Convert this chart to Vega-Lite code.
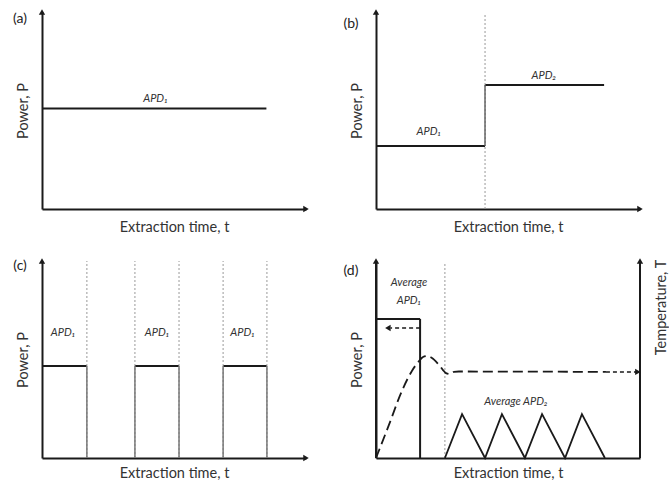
{
  "$schema": "https://vega.github.io/schema/vega-lite/v6.json",
  "padding": {"left": 13, "top": 9, "right": 0, "bottom": 0},
  "config": {
    "view": {"stroke": null},
    "font": "Lato",
    "axis": {"domainColor": "#1a1a1a", "domainWidth": 2, "ticks": false, "labels": false, "grid": false, "titleFont": "Lato", "titleFontSize": 14.5, "titleFontWeight": "normal", "titleColor": "#333"},
    "axisY": {"titlePadding": 12},
    "axisX": {"titlePadding": 11}
  },
  "datasets": {
    "segs": [
      {"p": "a", "s": "k", "x": 0, "y": 51, "x2": 85, "y2": 51},
      {"p": "b", "s": "d", "x": 41.3, "y": 0, "x2": 41.3, "y2": 99},
      {"p": "b", "s": "k", "x": 0, "y": 32, "x2": 41.3, "y2": 32},
      {"p": "b", "s": "g", "x": 41.3, "y": 32, "x2": 41.3, "y2": 63},
      {"p": "b", "s": "k", "x": 41.3, "y": 63, "x2": 86.4, "y2": 63},
      {"p": "c", "s": "k", "x": 0, "y": 46.7, "x2": 17, "y2": 46.7},
      {"p": "c", "s": "k", "x": 35.2, "y": 46.7, "x2": 51.9, "y2": 46.7},
      {"p": "c", "s": "k", "x": 68.6, "y": 46.7, "x2": 85.2, "y2": 46.7},
      {"p": "c", "s": "g", "x": 17, "y": 0, "x2": 17, "y2": 46.7},
      {"p": "c", "s": "g", "x": 35.2, "y": 0, "x2": 35.2, "y2": 46.7},
      {"p": "c", "s": "g", "x": 51.9, "y": 0, "x2": 51.9, "y2": 46.7},
      {"p": "c", "s": "g", "x": 68.6, "y": 0, "x2": 68.6, "y2": 46.7},
      {"p": "c", "s": "g", "x": 85.2, "y": 0, "x2": 85.2, "y2": 46.7},
      {"p": "c", "s": "d", "x": 17, "y": 0, "x2": 17, "y2": 100},
      {"p": "c", "s": "d", "x": 35.2, "y": 0, "x2": 35.2, "y2": 100},
      {"p": "c", "s": "d", "x": 51.9, "y": 0, "x2": 51.9, "y2": 100},
      {"p": "c", "s": "d", "x": 68.6, "y": 0, "x2": 68.6, "y2": 100},
      {"p": "c", "s": "d", "x": 85.2, "y": 0, "x2": 85.2, "y2": 100},
      {"p": "d", "s": "k", "x": 0, "y": 0, "x2": 0, "y2": 100},
      {"p": "d", "s": "k", "x": 0, "y": 70.6, "x2": 16.7, "y2": 70.6},
      {"p": "d", "s": "k", "x": 16.7, "y": 70.6, "x2": 16.7, "y2": 0},
      {"p": "d", "s": "k", "x": 100, "y": 0, "x2": 100, "y2": 100},
      {"p": "d", "s": "d", "x": 26.1, "y": 0, "x2": 26.1, "y2": 99},
      {"p": "d", "s": "a", "x": 16.7, "y": 66, "x2": 5.5, "y2": 66},
      {"p": "d", "s": "a", "x": 87.1, "y": 43.7, "x2": 98.5, "y2": 43.7}
    ],
    "arrows": [
      {"p": "a", "x": 0, "y": 100, "sh": "triangle-up"},
      {"p": "a", "x": 100, "y": 0, "sh": "triangle-right"},
      {"p": "b", "x": 0, "y": 100, "sh": "triangle-up"},
      {"p": "b", "x": 100, "y": 0, "sh": "triangle-right"},
      {"p": "c", "x": 0, "y": 100, "sh": "triangle-up"},
      {"p": "c", "x": 100, "y": 0, "sh": "triangle-right"},
      {"p": "d", "x": 0, "y": 100, "sh": "triangle-up"},
      {"p": "d", "x": 100, "y": 100, "sh": "triangle-up"},
      {"p": "d", "x": 4.5, "y": 66, "sh": "triangle-left"},
      {"p": "d", "x": 99.2, "y": 43.7, "sh": "triangle-right"}
    ],
    "labels": [
      {"p": "a", "t": "APD₁", "x": 43, "y": 56},
      {"p": "b", "t": "APD₁", "x": 20, "y": 39},
      {"p": "b", "t": "APD₂", "x": 63.6, "y": 67.5},
      {"p": "c", "t": "APD₁", "x": 8, "y": 63.5},
      {"p": "c", "t": "APD₁", "x": 43.6, "y": 63.5},
      {"p": "c", "t": "APD₁", "x": 76, "y": 63.5},
      {"p": "d", "t": "Average", "x": 12.5, "y": 88.8},
      {"p": "d", "t": "APD₁", "x": 12.5, "y": 79.7},
      {"p": "d", "t": "Average APD₂", "x": 53, "y": 28.4}
    ],
    "tags": [
      {"p": "a", "t": "(a)", "x": -8.3, "y": 96.4},
      {"p": "b", "t": "(b)", "x": -9.5, "y": 94},
      {"p": "c", "t": "(c)", "x": -8.3, "y": 97.5},
      {"p": "d", "t": "(d)", "x": -9.5, "y": 95}
    ],
    "curves": [
      {"c": "curve", "x": 0, "y": 0},
      {"c": "curve", "x": 4.9, "y": 16.8},
      {"c": "curve", "x": 9.8, "y": 34},
      {"c": "curve", "x": 13.6, "y": 44.2},
      {"c": "curve", "x": 16.3, "y": 49.2},
      {"c": "curve", "x": 17.8, "y": 51.3},
      {"c": "curve", "x": 19.3, "y": 51.8},
      {"c": "curve", "x": 21.2, "y": 50.8},
      {"c": "curve", "x": 23.9, "y": 47.2},
      {"c": "curve", "x": 26.5, "y": 43.1},
      {"c": "curve", "x": 28, "y": 42.6},
      {"c": "curve", "x": 29.5, "y": 43.7},
      {"c": "curve", "x": 31.4, "y": 43.9},
      {"c": "curve", "x": 87.1, "y": 43.7},
      {"c": "tri", "x": 26.1, "y": 0},
      {"c": "tri", "x": 32.6, "y": 22.3},
      {"c": "tri", "x": 41.3, "y": 0},
      {"c": "tri", "x": 47.7, "y": 22.3},
      {"c": "tri", "x": 56.4, "y": 0},
      {"c": "tri", "x": 62.9, "y": 22.3},
      {"c": "tri", "x": 71.6, "y": 0},
      {"c": "tri", "x": 78, "y": 22.3},
      {"c": "tri", "x": 86.7, "y": 0}
    ]
  },
  "vconcat": [
    {
      "hconcat": [
        {
          "width": 264, "height": 197,
          "encoding": {"x": {"field": "x", "type": "quantitative", "scale": {"domain": [0, 100]}, "axis": {"title": "Extraction time, t"}}, "y": {"field": "y", "type": "quantitative", "scale": {"domain": [0, 100]}, "axis": {"title": "Power, P"}}},
          "layer": [
            {"data": {"name": "segs"}, "transform": [{"filter": "datum.p=='a' && datum.s=='k'"}], "mark": {"type": "rule", "strokeWidth": 2, "color": "#1a1a1a"},
             "encoding": {"x2": {"field": "x2"}, "y2": {"field": "y2"}}},
            {"data": {"name": "arrows"}, "transform": [{"filter": "datum.p=='a'"}], "mark": {"type": "point", "filled": true, "size": 40, "color": "#1a1a1a", "opacity": 1},
             "encoding": {"shape": {"field": "sh", "type": "nominal", "scale": null}}},
            {"data": {"name": "labels"}, "transform": [{"filter": "datum.p=='a'"}], "mark": {"type": "text", "font": "Lato", "fontStyle": "italic", "fontSize": 11, "color": "#333"},
             "encoding": {"text": {"field": "t"}}},
            {"data": {"name": "tags"}, "transform": [{"filter": "datum.p=='a'"}], "mark": {"type": "text", "font": "Lato", "fontSize": 14, "color": "#222"},
             "encoding": {"text": {"field": "t"}}}
          ]
        },
        {
          "width": 264, "height": 197,
          "encoding": {"x": {"field": "x", "type": "quantitative", "scale": {"domain": [0, 100]}, "axis": {"title": "Extraction time, t"}}, "y": {"field": "y", "type": "quantitative", "scale": {"domain": [0, 100]}, "axis": {"title": "Power, P"}}},
          "layer": [
            {"data": {"name": "segs"}, "transform": [{"filter": "datum.p=='b' && datum.s=='k'"}], "mark": {"type": "rule", "strokeWidth": 2, "color": "#1a1a1a"},
             "encoding": {"x2": {"field": "x2"}, "y2": {"field": "y2"}}},
            {"data": {"name": "segs"}, "transform": [{"filter": "datum.p=='b' && datum.s=='g'"}], "mark": {"type": "rule", "strokeWidth": 1.5, "color": "#555"},
             "encoding": {"x2": {"field": "x2"}, "y2": {"field": "y2"}}},
            {"data": {"name": "segs"}, "transform": [{"filter": "datum.p=='b' && datum.s=='d'"}], "mark": {"type": "rule", "strokeWidth": 1, "color": "#999", "strokeDash": [2, 2]},
             "encoding": {"x2": {"field": "x2"}, "y2": {"field": "y2"}}},
            {"data": {"name": "arrows"}, "transform": [{"filter": "datum.p=='b'"}], "mark": {"type": "point", "filled": true, "size": 40, "color": "#1a1a1a", "opacity": 1},
             "encoding": {"shape": {"field": "sh", "type": "nominal", "scale": null}}},
            {"data": {"name": "labels"}, "transform": [{"filter": "datum.p=='b'"}], "mark": {"type": "text", "font": "Lato", "fontStyle": "italic", "fontSize": 11, "color": "#333"},
             "encoding": {"text": {"field": "t"}}},
            {"data": {"name": "tags"}, "transform": [{"filter": "datum.p=='b'"}], "mark": {"type": "text", "font": "Lato", "fontSize": 14, "color": "#222"},
             "encoding": {"text": {"field": "t"}}}
          ]
        }
      ],
      "spacing": 34
    },
    {
      "hconcat": [
        {
          "width": 264, "height": 197,
          "encoding": {"x": {"field": "x", "type": "quantitative", "scale": {"domain": [0, 100]}, "axis": {"title": "Extraction time, t", "titlePadding": 8}}, "y": {"field": "y", "type": "quantitative", "scale": {"domain": [0, 100]}, "axis": {"title": "Power, P"}}},
          "layer": [
            {"data": {"name": "segs"}, "transform": [{"filter": "datum.p=='c' && datum.s=='k'"}], "mark": {"type": "rule", "strokeWidth": 2, "color": "#1a1a1a"},
             "encoding": {"x2": {"field": "x2"}, "y2": {"field": "y2"}}},
            {"data": {"name": "segs"}, "transform": [{"filter": "datum.p=='c' && datum.s=='d'"}], "mark": {"type": "rule", "strokeWidth": 1, "color": "#999", "strokeDash": [2, 2]},
             "encoding": {"x2": {"field": "x2"}, "y2": {"field": "y2"}}},
            {"data": {"name": "segs"}, "transform": [{"filter": "datum.p=='c' && datum.s=='g'"}], "mark": {"type": "rule", "strokeWidth": 1.5, "color": "#777"},
             "encoding": {"x2": {"field": "x2"}, "y2": {"field": "y2"}}},
            {"data": {"name": "arrows"}, "transform": [{"filter": "datum.p=='c'"}], "mark": {"type": "point", "filled": true, "size": 40, "color": "#1a1a1a", "opacity": 1},
             "encoding": {"shape": {"field": "sh", "type": "nominal", "scale": null}}},
            {"data": {"name": "labels"}, "transform": [{"filter": "datum.p=='c'"}], "mark": {"type": "text", "font": "Lato", "fontStyle": "italic", "fontSize": 11, "color": "#333"},
             "encoding": {"text": {"field": "t"}}},
            {"data": {"name": "tags"}, "transform": [{"filter": "datum.p=='c'"}], "mark": {"type": "text", "font": "Lato", "fontSize": 14, "color": "#222"},
             "encoding": {"text": {"field": "t"}}}
          ]
        },
        {
          "width": 264, "height": 197,
          "title": {"text": "Temperature, T", "orient": "right", "angle": 270, "baseline": "top", "anchor": "middle", "offset": -3, "dx": 52, "font": "Lato", "fontSize": 14.5, "fontWeight": "normal", "color": "#333"},
          "encoding": {"x": {"field": "x", "type": "quantitative", "scale": {"domain": [0, 100]}, "axis": {"title": "Extraction time, t", "titlePadding": 8}}, "y": {"field": "y", "type": "quantitative", "scale": {"domain": [0, 100]}, "axis": {"title": "Power, P"}}},
          "layer": [
            {"data": {"name": "segs"}, "transform": [{"filter": "datum.p=='d' && datum.s=='k'"}], "mark": {"type": "rule", "strokeWidth": 2, "color": "#1a1a1a"},
             "encoding": {"x2": {"field": "x2"}, "y2": {"field": "y2"}}},
            {"data": {"name": "segs"}, "transform": [{"filter": "datum.p=='d' && datum.s=='d'"}], "mark": {"type": "rule", "strokeWidth": 1, "color": "#999", "strokeDash": [2, 2]},
             "encoding": {"x2": {"field": "x2"}, "y2": {"field": "y2"}}},
            {"data": {"name": "segs"}, "transform": [{"filter": "datum.p=='d' && datum.s=='a'"}], "mark": {"type": "rule", "strokeWidth": 1.5, "color": "#1a1a1a", "strokeDash": [4, 3]},
             "encoding": {"x2": {"field": "x2"}, "y2": {"field": "y2"}}},
            {"data": {"name": "curves"}, "transform": [{"filter": "datum.c=='curve'"}], "mark": {"type": "line", "strokeWidth": 1.8, "color": "#1a1a1a", "strokeDash": [10, 5], "interpolate": "monotone"},
             "encoding": {}},
            {"data": {"name": "curves"}, "transform": [{"filter": "datum.c=='tri'"}], "mark": {"type": "line", "strokeWidth": 1.8, "color": "#1a1a1a"},
             "encoding": {}},
            {"data": {"name": "arrows"}, "transform": [{"filter": "datum.p=='d'"}], "mark": {"type": "point", "filled": true, "size": 40, "color": "#1a1a1a", "opacity": 1},
             "encoding": {"shape": {"field": "sh", "type": "nominal", "scale": null}}},
            {"data": {"name": "labels"}, "transform": [{"filter": "datum.p=='d'"}], "mark": {"type": "text", "font": "Lato", "fontStyle": "italic", "fontSize": 11, "color": "#333"},
             "encoding": {"text": {"field": "t"}}},
            {"data": {"name": "tags"}, "transform": [{"filter": "datum.p=='d'"}], "mark": {"type": "text", "font": "Lato", "fontSize": 14, "color": "#222"},
             "encoding": {"text": {"field": "t"}}}
          ]
        }
      ],
      "spacing": 34
    }
  ],
  "spacing": 24
}
